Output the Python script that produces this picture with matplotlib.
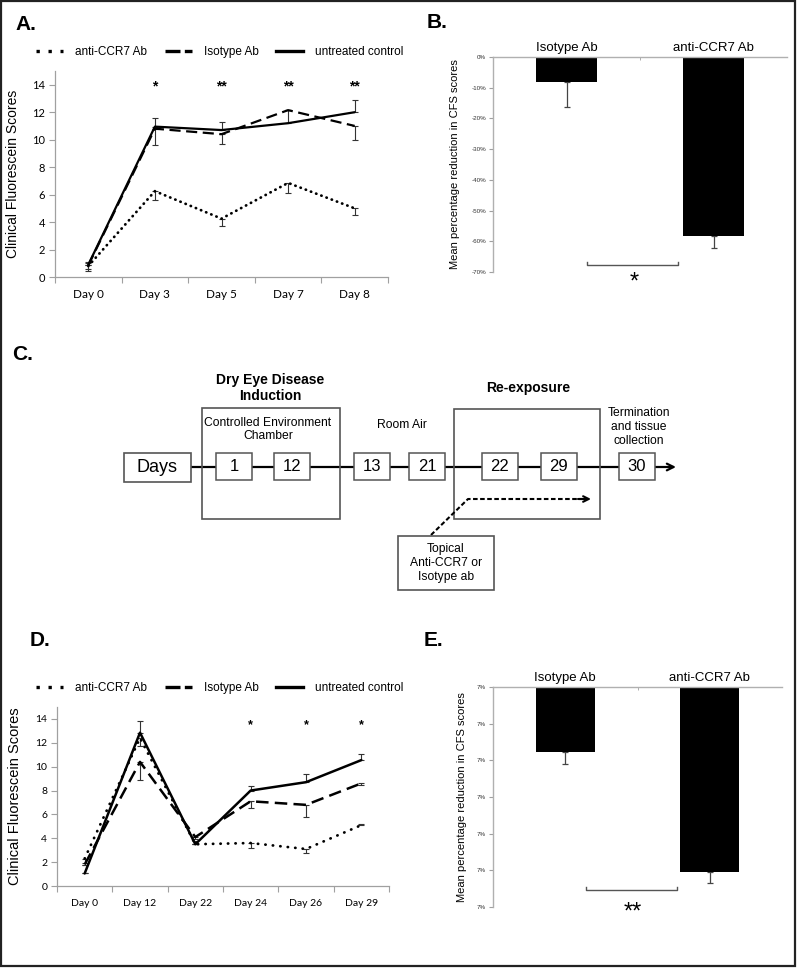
import numpy as np
import matplotlib
matplotlib.use("Agg")
import matplotlib.pyplot as plt
from matplotlib.patches import Rectangle
from matplotlib.lines import Line2D

plt.rcParams['font.family'] = ['Liberation Sans', 'DejaVu Sans']

# ---------------- data ----------------
series_names = ["anti-CCR7 Ab", "Isotype Ab", "untreated control"]

# Panel A
A_days = ["Day 0", "Day 3", "Day 5", "Day 7", "Day 8"]
A_ccr7 = [0.8, 6.25, 4.25, 6.85, 5.0]
A_ccr7_lo = [0.35, 0.65, 0.55, 0.7, 0.45]
A_ccr7_hi = [0.2, 0.0, 0.0, 0.0, 0.0]
A_iso = [0.85, 10.8, 10.4, 12.15, 11.0]
A_iso_lo = [0.0, 1.2, 0.7, 0.0, 1.0]
A_iso_hi = [0.0, 0.0, 0.0, 0.0, 0.0]
A_ctrl = [0.9, 10.95, 10.7, 11.2, 12.0]
A_ctrl_lo = [0.3, 0.0, 0.0, 0.0, 0.0]
A_ctrl_hi = [0.2, 0.6, 0.6, 0.95, 0.9]
A_sig = ["", "*", "**", "**", "**"]

# Panel B
B_groups = ["Isotype Ab", "anti-CCR7 Ab"]
B_vals = [-8.3, -58.2]
B_err = [8.0, 4.0]
B_ticks = [0, -10, -20, -30, -40, -50, -60, -70]
B_sig = "*"

# Panel C
C_days = ["1", "12", "13", "21", "22", "29", "30"]

# Panel D
D_days = ["Day 0", "Day 12", "Day 22", "Day 24", "Day 26", "Day 29"]
D_ccr7 = [2.3, 12.4, 3.5, 3.6, 3.1, 5.1]
D_ccr7_lo = [0.4, 0.7, 0.0, 0.4, 0.35, 0.0]
D_ccr7_hi = [0.0, 0.0, 0.3, 0.0, 0.0, 0.1]
D_iso = [1.8, 10.4, 4.1, 7.1, 6.8, 8.6]
D_iso_lo = [0.0, 1.5, 0.2, 0.6, 1.0, 0.1]
D_iso_hi = [0.0, 0.0, 0.0, 0.0, 0.0, 0.0]
D_ctrl = [1.05, 12.85, 3.5, 8.0, 8.7, 10.55]
D_ctrl_lo = [0.0, 0.0, 0.0, 0.0, 0.0, 0.0]
D_ctrl_hi = [0.0, 0.95, 0.0, 0.4, 0.65, 0.55]
D_sig = ["", "", "", "*", "*", "*"]

# Panel E
E_groups = ["Isotype Ab", "anti-CCR7 Ab"]
E_vals = [-17.8, -50.5]
E_err = [3.2, 3.0]
E_ticks = [0, -10, -20, -30, -40, -50, -60]
E_ticklabels = ["7%"] * 7
E_sig = "**"

# ---------------- figure ----------------
W, H = 797, 968
fig = plt.figure(figsize=(W / 100, H / 100), dpi=100)


def px_axes(x0, y0, x1, y1):
    return fig.add_axes([x0 / W, 1 - y1 / H, (x1 - x0) / W, (y1 - y0) / H])


AX_GRAY = "#a0a0a0"
ERR_C = "#333333"
dot_ls = (0, (0.1, 1.9))
dash_ls = (0, (5, 2.5))


def line_panel(ax, cats, data, sig, tick_fs, ytick_fs, sig_y, sig_fs):
    x = np.arange(len(cats))
    for vals, lo, hi, ls, lw, cap in data:
        ax.plot(x, vals, color="black", lw=lw, linestyle=ls,
                dash_capstyle=cap, solid_capstyle="round", zorder=3)
        ax.errorbar(x, vals, yerr=[lo, hi], fmt="none", ecolor=ERR_C,
                    elinewidth=0.8, capsize=2, capthick=0.8, zorder=2)
    ax.set_xlim(-0.5, len(cats) - 0.5)
    ax.set_ylim(0, 15)
    ax.set_yticks(range(0, 15, 2))
    ax.set_xticks(x, cats, fontfamily="Lato", fontsize=tick_fs)
    ax.set_xticks(np.arange(-0.5, len(cats), 1), minor=True)
    ax.tick_params(axis="x", which="major", length=0, pad=9)
    ax.tick_params(axis="x", which="minor", length=4, color=AX_GRAY, width=0.8)
    ax.tick_params(axis="y", length=4, color=AX_GRAY, width=0.8,
                   labelsize=ytick_fs, pad=3)
    for lbl in ax.get_yticklabels():
        lbl.set_fontfamily("Lato")
    for s in ("top", "right"):
        ax.spines[s].set_visible(False)
    for s in ("left", "bottom"):
        ax.spines[s].set_color(AX_GRAY)
        ax.spines[s].set_linewidth(0.9)
    for xi, s in zip(x, sig):
        if s:
            ax.text(xi, sig_y, s, ha="center", va="center", fontsize=sig_fs,
                    fontfamily="Liberation Sans", fontweight="bold")


def bar_panel(ax, groups, vals, err, ticks, ticklabels, lab_fs, tick_fs):
    x = np.arange(len(groups))
    ax.bar(x, vals, width=0.41, color="black", zorder=2)
    ax.errorbar(x, vals, yerr=[err, [0] * len(err)], fmt="none", ecolor="#444",
                elinewidth=0.9, capsize=2.2, capthick=0.9, zorder=1)
    ax.set_xlim(-0.5, len(groups) - 0.5)
    ax.set_ylim(min(ticks), 0)
    ax.set_yticks(ticks, ticklabels, fontsize=tick_fs, color="#333")
    ax.xaxis.tick_top()
    ax.set_xticks(x, groups, fontsize=lab_fs)
    ax.set_xticks([0.5], minor=True)
    ax.tick_params(axis="x", which="major", length=0, pad=2)
    ax.tick_params(axis="x", which="minor", top=True, direction="in",
                   length=2.5, color=AX_GRAY)
    ax.tick_params(axis="y", length=3, color=AX_GRAY, width=0.8, pad=2)
    for s in ("bottom", "right"):
        ax.spines[s].set_visible(False)
    for s in ("left", "top"):
        ax.spines[s].set_color("#b0b0b0")
        ax.spines[s].set_linewidth(1.0)


def bracket(ax, x0, x1, y, tick, star, star_y, star_fs):
    ax.plot([x0, x0, x1, x1], [y + tick, y, y, y + tick], color="#555",
            lw=1.0, clip_on=False)
    ax.text((x0 + x1) / 2 + 0.01, star_y, star, ha="center", va="center",
            fontsize=star_fs, clip_on=False)


# ---------------- Panel A ----------------
axA = px_axes(55, 71, 388, 277)
line_panel(axA, A_days,
           [(A_ccr7, A_ccr7_lo, A_ccr7_hi, dot_ls, 2.0, "round"),
            (A_iso, A_iso_lo, A_iso_hi, dash_ls, 1.6, "butt"),
            (A_ctrl, A_ctrl_lo, A_ctrl_hi, "-", 1.6, "round")],
           A_sig, 8.5, 8, 13.9, 10)
axA.set_ylabel("Clinical Fluorescein Scores", fontsize=10)
axA.yaxis.set_label_coords(-0.105, 0.5)

# ---------------- Panel B ----------------
axB = px_axes(493, 57, 787, 272)
bar_panel(axB, B_groups, B_vals, B_err, B_ticks,
          [f"{t}%" for t in B_ticks], 9.5, 4.5)
axB.set_ylabel("Mean percentage reduction in CFS scores", fontsize=8)
axB.yaxis.set_label_coords(-0.112, 0.5)
bracket(axB, 0.14, 0.76, -67.7, 1.0, B_sig, -73.5, 17)

# ---------------- Panel D ----------------
axD = px_axes(57, 707, 389, 886)
line_panel(axD, D_days,
           [(D_ccr7, D_ccr7_lo, D_ccr7_hi, (0, (0.1, 2.6)), 2.0, "round"),
            (D_iso, D_iso_lo, D_iso_hi, dash_ls, 1.8, "butt"),
            (D_ctrl, D_ctrl_lo, D_ctrl_hi, "-", 1.8, "round")],
           D_sig, 7.5, 7.5, 13.5, 9)
axD.set_ylabel("Clinical Fluorescein Scores", fontsize=10.5)
axD.yaxis.set_label_coords(-0.105, 0.5)

# ---------------- Panel E ----------------
axE = px_axes(493, 687, 782, 907)
bar_panel(axE, E_groups, E_vals, E_err, E_ticks, E_ticklabels, 9.5, 4.5)
axE.set_ylabel("Mean percentage reduction in CFS scores", fontsize=8)
axE.yaxis.set_label_coords(-0.09, 0.5)
bracket(axE, 0.145, 0.775, -55.4, 0.8, E_sig, -61.5, 17)

# ---------------- legends ----------------
leg_handles = [
    Line2D([], [], color="black", lw=2.4, linestyle=(0, (1, 2.6))),
    Line2D([], [], color="black", lw=2.4, linestyle=(0, (4.5, 1.3))),
    Line2D([], [], color="black", lw=2.4, linestyle="-"),
]
for yc, fs in ((52, 8.5), (688, 8.5)):
    fig.legend(leg_handles, series_names, loc="center left",
               bbox_to_anchor=(36 / W, 1 - yc / H), ncol=3, frameon=False,
               fontsize=fs, handlelength=2.3, handletextpad=1.0,
               columnspacing=1.5, borderpad=0, borderaxespad=0)

# ---------------- overlay: panel C, letters, frame ----------------
ov = fig.add_axes([0, 0, 1, 1])
ov.set_xlim(0, W)
ov.set_ylim(H, 0)
ov.axis("off")

for txt, x, y in (("A.", 15, 25), ("B.", 427, 23), ("C.", 12, 355),
                  ("D.", 30, 641), ("E.", 424, 640)):
    ov.text(x, y, txt, fontsize=15, fontweight="bold", ha="left", va="center")

BOX_EC = "#555555"
TL_Y = 467
# timeline with arrow
ov.annotate("", xy=(676, TL_Y), xytext=(191, TL_Y),
            arrowprops=dict(arrowstyle="->", lw=1.6, color="black",
                            shrinkA=0, shrinkB=0, mutation_scale=12), zorder=1)
# phase boxes
ov.add_patch(Rectangle((202, 408), 138, 111, fill=False, ec=BOX_EC, lw=1.2, zorder=2))
ov.add_patch(Rectangle((454, 409), 146, 110, fill=False, ec=BOX_EC, lw=1.2, zorder=2))
# Days box
ov.add_patch(Rectangle((124, 453), 67, 29, fc="white", ec=BOX_EC, lw=1.2, zorder=3))
ov.text(157.5, 468, "Days", fontsize=13, ha="center", va="center", zorder=4)
# day boxes
for lab, xl in zip(C_days, [216, 274, 354, 409, 482, 541, 619]):
    ov.add_patch(Rectangle((xl, 453), 36, 26.5, fc="white", ec=BOX_EC,
                           lw=1.1, zorder=3))
    ov.text(xl + 18, 466.5, lab, fontsize=12, ha="center", va="center", zorder=4)

ov.text(270, 388, "Dry Eye Disease\nInduction", fontsize=10, fontweight="bold",
        ha="center", va="center", linespacing=1.2)
ov.text(528, 388, "Re-exposure", fontsize=10, fontweight="bold",
        ha="center", va="center")
ov.text(268, 429.5, "Controlled Environment\nChamber", fontsize=8.7,
        ha="center", va="center", linespacing=1.2)
ov.text(402, 425, "Room Air", fontsize=8.7, ha="center", va="center")
ov.text(639, 427, "Termination\nand tissue\ncollection", fontsize=8.7,
        ha="center", va="center", linespacing=1.25)

# topical application
ov.plot([431, 468, 583], [535, 499, 499], color="black", lw=1.5,
        linestyle=(0, (2.2, 1.2)), zorder=2)
ov.annotate("", xy=(591, 499), xytext=(578, 499),
            arrowprops=dict(arrowstyle="->", lw=1.5, color="black",
                            shrinkA=0, shrinkB=0, mutation_scale=10))
ov.add_patch(Rectangle((398, 536), 96, 54, fc="white", ec=BOX_EC, lw=1.2, zorder=3))
ov.text(446, 563, "Topical\nAnti-CCR7 or\nIsotype ab", fontsize=8.7,
        ha="center", va="center", linespacing=1.25, zorder=4)

# outer frame
ov.add_patch(Rectangle((1, 1), 794, 965, fill=False, ec="#222", lw=1.6, zorder=5))

fig.savefig("out.png", dpi=100)
